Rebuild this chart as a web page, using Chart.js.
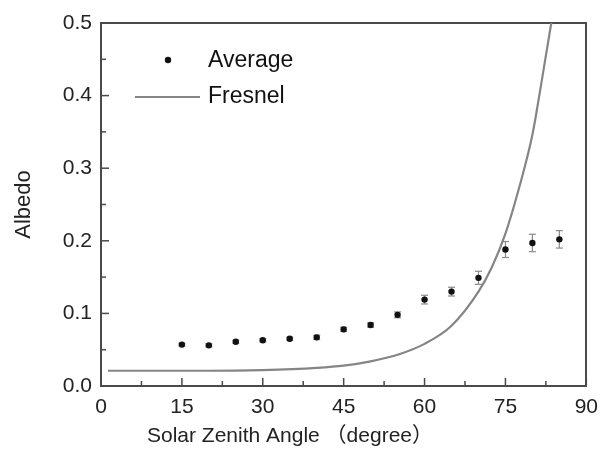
<!DOCTYPE html>
<html>
<head>
<meta charset="utf-8">
<style>
  html, body { margin: 0; padding: 0; background: #fff; }
  #wrap { width: 607px; height: 457px; }
</style>
</head>
<body>
<div id="wrap"><canvas id="myChart"></canvas></div>

<script src="https://cdn.jsdelivr.net/npm/chart.js"></script>
<script>
const angles    = [15, 20, 25, 30, 35, 40, 45, 50, 55, 60, 65, 70, 75, 80, 85];
const albedo    = [0.057, 0.056, 0.061, 0.063, 0.065, 0.067, 0.078, 0.084, 0.098, 0.119, 0.130, 0.149, 0.188, 0.197, 0.202];
const albedoErr = [0.002, 0.002, 0.002, 0.002, 0.002, 0.003, 0.003, 0.003, 0.004, 0.006, 0.006, 0.009, 0.011, 0.012, 0.012];

// Fresnel curve
const fresnelAngles = [1.3, 10, 20, 30, 40, 45, 50, 55, 60, 65, 70, 72.5, 75, 77.5, 80, 81.5, 83.5];
const fresnelValues = [0.021, 0.021, 0.021, 0.022, 0.025, 0.028, 0.034, 0.043, 0.058, 0.083, 0.130, 0.164, 0.210, 0.272, 0.346, 0.410, 0.500];

const xTicks = [0, 15, 30, 45, 60, 75, 90];
const xMinor = [7.5, 22.5, 37.5, 52.5, 67.5, 82.5];
const yTicks = [0.0, 0.1, 0.2, 0.3, 0.4, 0.5];
const yMinor = [0.05, 0.15, 0.25, 0.35, 0.45];

const FONT = "'Liberation Sans', Arial, 'Noto Sans CJK SC', sans-serif";
const AXIS = '#4a4a4a';
Chart.defaults.font.family = FONT;

const framePlugin = {
  id: 'frame',
  beforeDatasetsDraw(chart) {
    const c = chart.ctx;
    const x = chart.scales.x, y = chart.scales.y;
    // error bars
    c.save();
    c.fillStyle = '#8a8a8a';
    for (let i = 0; i < angles.length; i++) {
      const px = x.getPixelForValue(angles[i]);
      const top = y.getPixelForValue(albedo[i] + albedoErr[i]);
      const bot = y.getPixelForValue(albedo[i] - albedoErr[i]);
      c.fillRect(px - 0.6, top, 1.2, bot - top);
      c.fillRect(px - 3.5, top - 0.6, 7, 1.2);
      c.fillRect(px - 3.5, bot - 0.6, 7, 1.2);
    }
    c.restore();
  },
  afterDraw(chart) {
    const c = chart.ctx;
    const a = chart.chartArea;
    const x = chart.scales.x, y = chart.scales.y;
    const L = a.left, B = a.bottom;
    c.save();
    c.fillStyle = AXIS;
    // inward ticks
    xTicks.forEach(function (v) { c.fillRect(x.getPixelForValue(v) - 0.75, B - 8, 1.5, 8); });
    xMinor.forEach(function (v) { c.fillRect(x.getPixelForValue(v) - 0.75, B - 5, 1.5, 5); });
    yTicks.forEach(function (v) { c.fillRect(L, y.getPixelForValue(v) - 0.75, 8, 1.5); });
    yMinor.forEach(function (v) { c.fillRect(L, y.getPixelForValue(v) - 0.75, 5, 1.5); });

    // legend
    c.fillStyle = '#111';
    c.beginPath();
    c.arc(168, 60, 3.2, 0, Math.PI * 2);
    c.fill();
    c.fillStyle = '#858585';
    c.fillRect(135, 96, 65, 2);
    c.fillStyle = '#111';
    c.font = '23px ' + FONT;
    c.textBaseline = 'middle';
    c.textAlign = 'left';
    c.fillText('Average', 208, 61);
    c.fillText('Fresnel', 208, 97);

    // x title
    c.font = '21px ' + FONT;
    c.textAlign = 'center';
    c.fillStyle = '#222';
    c.fillText('Solar Zenith Angle （degree）', 290, 436);
    c.restore();
  }
};

const sideAxis = {
  type: 'linear',
  grid: { display: false, drawTicks: false },
  border: { display: true, color: AXIS, width: 2 },
  ticks: { display: false }
};

new Chart(document.getElementById('myChart'), {
  data: {
    datasets: [
      {
        type: 'line',
        label: 'Fresnel',
        data: fresnelAngles.map(function (a, i) { return { x: a, y: fresnelValues[i] }; }),
        borderColor: '#858585',
        borderWidth: 2.2,
        pointRadius: 0,
        cubicInterpolationMode: 'monotone',
        fill: false
      },
      {
        type: 'scatter',
        label: 'Average',
        data: angles.map(function (a, i) { return { x: a, y: albedo[i] }; }),
        backgroundColor: '#111',
        borderColor: '#111',
        pointRadius: 3.2,
        pointBorderWidth: 0
      }
    ]
  },
  options: {
    responsive: true,
    maintainAspectRatio: false,
    animation: false,
    layout: { padding: { left: 0, right: 14, top: 23, bottom: 0 } },
    plugins: {
      legend: { display: false },
      tooltip: { enabled: false }
    },
    scales: {
      x: {
        type: 'linear',
        min: 0, max: 90,
        afterBuildTicks: function (s) { s.ticks = xTicks.map(function (v) { return { value: v }; }); },
        afterFit: function (s) { s.height = 71; },
        grid: { display: false, drawTicks: false },
        border: { display: true, color: AXIS, width: 2 },
        ticks: { color: '#222', font: { size: 21 }, padding: 9, maxRotation: 0,
                 callback: function (v) { return String(v); } }
      },
      y: {
        type: 'linear',
        min: 0, max: 0.5,
        afterBuildTicks: function (s) { s.ticks = yTicks.map(function (v) { return { value: v }; }); },
        afterFit: function (s) { s.width = 101; },
        grid: { display: false, drawTicks: false },
        border: { display: true, color: AXIS, width: 2 },
        ticks: { color: '#222', font: { size: 21 }, padding: 9,
                 callback: function (v) { return v.toFixed(1); } },
        title: { display: true, text: 'Albedo', color: '#222', font: { size: 22 }, padding: { top: 11, bottom: 0 } }
      },
      xTop: Object.assign({ position: 'top', min: 0, max: 90, afterFit: function (s) { s.height = 0; } }, sideAxis),
      yRight: Object.assign({ position: 'right', min: 0, max: 0.5, afterFit: function (s) { s.width = 0; } }, sideAxis)
    }
  },
  plugins: [framePlugin]
});
</script>
</body>
</html>
